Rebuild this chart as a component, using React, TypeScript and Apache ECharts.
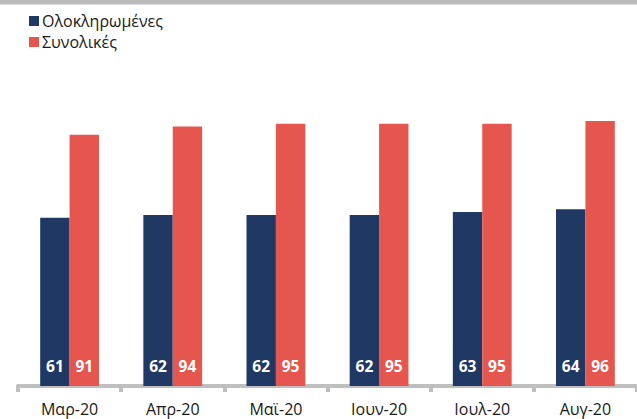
import React, { useEffect, useRef } from "react";
import * as echarts from "echarts";

const categories = ["Μαρ-20", "Απρ-20", "Μαϊ-20", "Ιουν-20", "Ιουλ-20", "Αυγ-20"];
const completed = [61, 62, 62, 62, 63, 64];
const total = [91, 94, 95, 95, 95, 96];
const seriesNames = ["Ολοκληρωμένες", "Συνολικές"];

const BLUE = "#203864";
const RED = "#e5564f";
const FONT = "'Open Sans', sans-serif";

export default function App() {
  const ref = useRef<HTMLDivElement>(null);
  useEffect(() => {
    if (!ref.current) return;
    const chart = echarts.init(ref.current, null, { renderer: "svg" });
    const label = {
      show: true,
      position: "insideBottom",
      distance: 12,
      color: "#ffffff",
      fontWeight: "bold",
      fontSize: 15.5,
      fontFamily: FONT,
    };
    chart.setOption({
      animation: false,
      backgroundColor: "#ffffff",
      graphic: [
        {
          type: "rect",
          shape: { x: 0, y: 0, width: 637, height: 4.5 },
          style: { fill: "#bbbbbb" },
          silent: true,
        },
      ],
      legend: {
        orient: "vertical",
        left: 24,
        top: 8,
        itemWidth: 10,
        itemHeight: 10,
        itemGap: 5,
        icon: "rect",
        textStyle: {
          fontSize: 16,
          lineHeight: 16,
          fontFamily: FONT,
          color: "#1a1a1a",
          padding: [0, 0, 0, -2],
        },
        data: seriesNames,
      },
      grid: { left: 18, right: -2, top: 110, bottom: 33 },
      xAxis: {
        type: "category",
        data: categories,
        axisLine: { lineStyle: { color: "#bfbfbf", width: 4 } },
        axisTick: { show: true, length: 6, lineStyle: { color: "#bfbfbf", width: 4 } },
        axisLabel: { fontSize: 16, fontFamily: FONT, color: "#1a1a1a", margin: 15 },
      },
      yAxis: {
        type: "value",
        min: 0,
        max: 100,
        show: false,
        splitLine: { show: false },
      },
      series: [
        {
          name: seriesNames[0],
          type: "bar",
          data: completed,
          barWidth: "28.5%",
          barGap: "0%",
          itemStyle: { color: BLUE },
          label,
        },
        {
          name: seriesNames[1],
          type: "bar",
          data: total,
          barWidth: "28.5%",
          itemStyle: { color: RED },
          label,
        },
      ],
    });
    return () => chart.dispose();
  }, []);
  return (
    <div
      ref={ref}
      style={{ position: "fixed", left: 0, top: 0, width: 637, height: 419 }}
    />
  );
}
